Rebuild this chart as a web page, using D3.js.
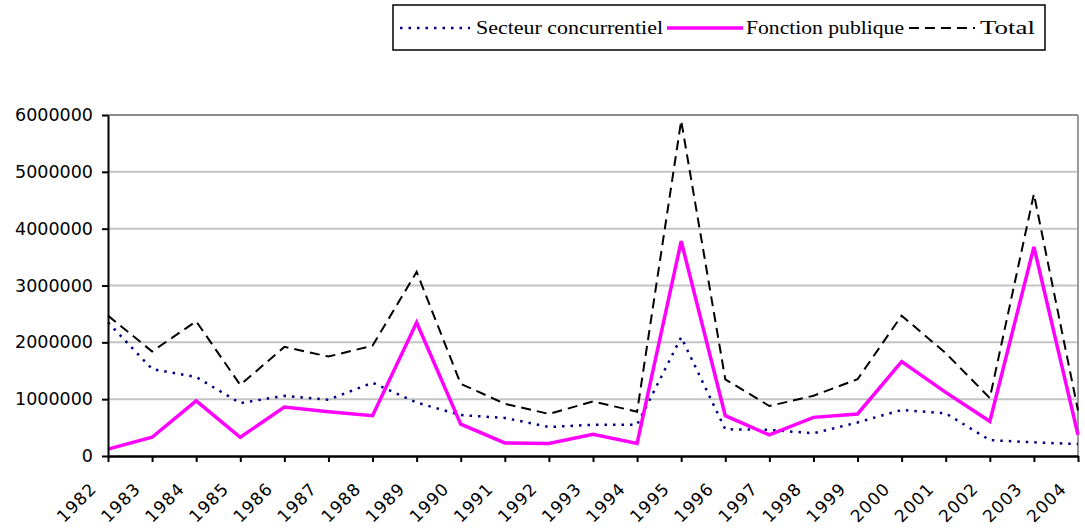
<!DOCTYPE html>
<html>
<head>
<meta charset="utf-8">
<script src="https://cdn.jsdelivr.net/npm/d3@7"></script>
<style>
  body { margin: 0; background: #fff; }
  svg { display: block; }
</style>
</head>
<body>
<div id="chart"></div>
<script>
// data
var years = ["1982","1983","1984","1985","1986","1987","1988","1989","1990","1991","1992",
             "1993","1994","1995","1996","1997","1998","1999","2000","2001","2002","2003","2004"];
var secteur = [2350000,1530000,1390000,930000,1060000,990000,1290000,940000,720000,670000,510000,
               550000,550000,2090000,470000,460000,400000,590000,810000,750000,280000,240000,210000];
var fonction = [120000,330000,970000,330000,860000,780000,710000,2350000,560000,230000,220000,
                380000,220000,3780000,710000,370000,680000,740000,1660000,1120000,610000,3680000,370000];
var total = [2470000,1840000,2370000,1250000,1920000,1750000,1940000,3240000,1270000,920000,740000,
             960000,780000,5900000,1350000,880000,1060000,1350000,2470000,1810000,1020000,4610000,800000];
var yTicks = [0,1000000,2000000,3000000,4000000,5000000,6000000];
var seriesNames = ["Secteur concurrentiel","Fonction publique","Total"];

var W = 1085, H = 532;
var margin = {top: 115, right: 7, bottom: 76, left: 108},
    width = W - margin.left - margin.right,
    height = H - margin.top - margin.bottom;

var svg = d3.select("#chart").append("svg")
    .attr("width", W)
    .attr("height", H);

var g = svg.append("g")
    .attr("transform", "translate(" + margin.left + "," + margin.top + ")");

var x = d3.scalePoint()
    .domain(years)
    .range([0, width]);

var y = d3.scaleLinear()
    .domain([0, 6000000])
    .range([height, 0]);

// gridlines
g.selectAll(".grid")
    .data(yTicks.slice(1))
    .enter().append("line")
    .attr("x1", 0).attr("x2", width)
    .attr("y1", function(d) { return y(d); })
    .attr("y2", function(d) { return y(d); })
    .style("stroke", function(d) { return d == 6000000 ? "#8c8c8c" : "#c4c4c4"; })
    .style("stroke-width", 2);

// right border of plot area
g.append("line")
    .attr("x1", width).attr("x2", width)
    .attr("y1", 0).attr("y2", height)
    .style("stroke", "#9a9a9a")
    .style("stroke-width", 2);

// lines
var line = function(vals) {
    return d3.line()
        .x(function(d, i) { return x(years[i]); })
        .y(function(d) { return y(d); })(vals);
};

g.append("path").attr("d", line(secteur))
    .style("fill", "none").style("stroke", "#000080")
    .style("stroke-width", 2.5).style("stroke-dasharray", "2.5,6");

g.append("path").attr("d", line(total))
    .style("fill", "none").style("stroke", "#000")
    .style("stroke-width", 2).style("stroke-dasharray", "10,6");

g.append("path").attr("d", line(fonction))
    .style("fill", "none").style("stroke", "#ff00ff")
    .style("stroke-width", 3.5).style("stroke-linejoin", "miter");

// y axis
var yAxis = g.append("g")
    .call(d3.axisLeft(y).tickValues(yTicks).tickSize(6).tickSizeOuter(0).tickFormat(d3.format("d")));
yAxis.select(".domain").style("stroke-width", 2);
yAxis.selectAll(".tick line").style("stroke-width", 2);
yAxis.selectAll("text")
    .attr("x", -15)
    .style("font-family", "DejaVu Sans")
    .style("font-size", "17.5px")
    .style("fill", "#000");

// x axis
var xAxis = g.append("g")
    .attr("transform", "translate(0," + height + ")")
    .call(d3.axisBottom(x).tickSize(6).tickSizeOuter(0));
xAxis.select(".domain").style("stroke-width", 2.5);
xAxis.selectAll(".tick line").style("stroke-width", 2);
xAxis.selectAll("text")
    .attr("y", 0).attr("dy", 0)
    .attr("transform", "translate(-11,34) rotate(-45)")
    .style("text-anchor", "end")
    .style("font-family", "DejaVu Sans")
    .style("font-size", "17px")
    .style("letter-spacing", "1px")
    .style("fill", "#000");

// legend
var leg = svg.append("g");
leg.append("rect")
    .attr("x", 393).attr("y", 5)
    .attr("width", 652).attr("height", 45)
    .style("fill", "#fff").style("stroke", "#000").style("stroke-width", 1.5);

var legItems = [
    {name: seriesNames[0], x0: 400, x1: 470, tx: 476, tw: 187, stroke: "#000080", w: 2.5, dash: "2.5,6"},
    {name: seriesNames[1], x0: 667, x1: 743, tx: 746, tw: 158, stroke: "#ff00ff", w: 3.5, dash: null},
    {name: seriesNames[2], x0: 909, x1: 975, tx: 980, tw: 55, stroke: "#000", w: 2, dash: "10,6"}
];
legItems.forEach(function(d) {
    leg.append("line")
        .attr("x1", d.x0).attr("x2", d.x1)
        .attr("y1", 28).attr("y2", 28)
        .style("stroke", d.stroke).style("stroke-width", d.w)
        .style("stroke-dasharray", d.dash);
    leg.append("text")
        .attr("x", d.tx).attr("y", 34)
        .attr("textLength", d.tw)
        .attr("lengthAdjust", "spacingAndGlyphs")
        .style("font-family", "Liberation Serif")
        .style("font-size", "19px")
        .text(d.name);
});
</script>
</body>
</html>
